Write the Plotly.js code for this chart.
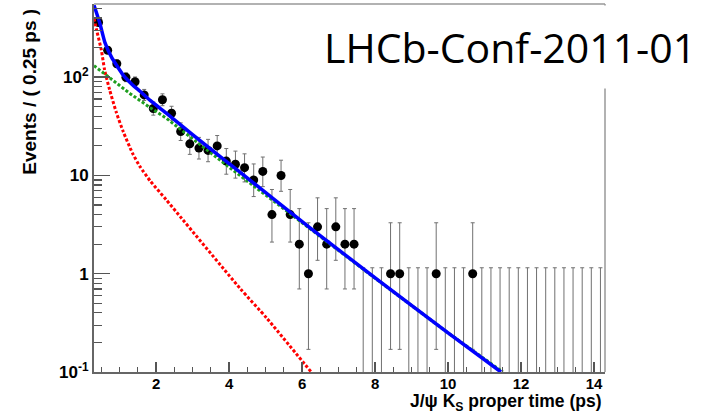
<!DOCTYPE html>
<html>
<head>
<meta charset="utf-8">
<script src="https://cdn.plot.ly/plotly-3.0.1.min.js"></script>
<style>html,body{margin:0;padding:0;background:#fff;}#chart{width:713px;height:416px;}</style>
</head>
<body>
<div id="chart"></div>
<script>
// ---- data ----
const binCenters = [0.425,0.675,0.925,1.175,1.425,1.675,1.925,2.175,2.425,2.675,
  2.925,3.175,3.425,3.675,3.925,4.175,4.425,4.675,4.925,5.175,
  5.425,5.675,5.925,6.175,6.425,6.675,6.925,7.175,7.425,7.675,
  7.925,8.175,8.425,8.675,8.925,9.175,9.425,9.675,9.925,10.175,
  10.425,10.675,10.925,11.175,11.425,11.675,11.925,12.175,12.425,12.675,
  12.925,13.175,13.425,13.675,13.925,14.175];
const counts = [360,188,137,100,90,66,48,59,43,28,
  21,19,18,20,14,13,12,9,11,4,
  10,4,2,1,3,2,3,2,2,0,
  0,0,1,1,0,0,0,1,0,0,
  0,1,0,0,0,0,0,0,0,0,
  0,0,0,0,0,0];
const errLow = [19.0,13.7,11.7,9.9,9.5,8.1,6.9,7.7,6.5,5.3,
  4.6,4.3,4.2,4.4,3.7,3.6,3.4,2.9,3.3,1.9,
  3.1,1.9,1.3,0.83,1.63,1.3,1.63,1.3,1.3,0,
  0,0,0.83,0.83,0,0,0,0.83,0,0,
  0,0.83,0,0,0,0,0,0,0,0,
  0,0,0,0,0,0];
const errHigh = [20.0,14.7,12.7,10.9,10.5,9.1,7.9,8.7,7.6,6.3,
  5.6,5.4,5.3,5.5,4.8,4.7,4.6,4.1,4.4,3.2,
  4.3,3.2,2.6,2.3,2.92,2.6,2.92,2.6,2.6,1.15,
  1.15,1.15,2.3,2.3,1.15,1.15,1.15,2.3,1.15,1.15,
  1.15,2.3,1.15,1.15,1.15,1.15,1.15,1.15,1.15,1.15,
  1.15,1.15,1.15,1.15,1.15,1.15];

// fit curves
const totalT   = [0.3, 0.46, 0.6, 0.78, 1.1, 1.35, 1.56, 1.84, 2.28, 3.0, 4.3, 6.21, 8.12, 10.0, 11.45];
const totalY   = [540, 354, 225, 160, 105, 84, 72, 58, 43, 26, 10.8, 2.95, 0.84, 0.25, 0.1];
const signalT  = [0.3, 0.74, 1.29, 1.84, 2.29, 4.11, 6.0, 8.0, 10.0, 11.5];
const signalY  = [131, 97, 68, 49, 38, 11.3, 3.3, 0.9, 0.25, 0.1];
const bkgT     = [0.3, 0.37, 0.5, 0.59, 0.73, 0.91, 1.1, 1.35, 1.56, 1.84, 2.28, 4.3, 5.03, 6.25];
const bkgY     = [398, 303, 190, 119, 74, 44, 28, 17, 12.3, 8.8, 5.65, 0.71, 0.354, 0.1];

const yTickVals = [0.1, 1, 10, 100];
const yTickText = ['10<sup>-1</sup>', '1', '10', '10<sup>2</sup>'];
const xTickVals = [2, 4, 6, 8, 10, 12, 14];

// ---- build traces ----
const nzX = [], nzY = [], nzLo = [], nzHi = [];
const zX = [], zY = [], zHi = [];
const floorY = 1e-3; // empty bins: drawn from below the axis
for (let i = 0; i < counts.length; i++) {
  if (counts[i] > 0) {
    nzX.push(binCenters[i]); nzY.push(counts[i]); nzLo.push(errLow[i]); nzHi.push(errHigh[i]);
  } else {
    zX.push(binCenters[i]); zY.push(floorY); zHi.push(errHigh[i] - floorY);
  }
}
const errStyle = {color: '#707070', thickness: 1, width: 2};
const traces = [
  {x: zX, y: zY, type: 'scatter', mode: 'markers', marker: {size: 1, color: 'rgba(0,0,0,0)'},
   error_y: Object.assign({type: 'data', symmetric: false, array: zHi, arrayminus: zX.map(() => 0)}, errStyle),
   hoverinfo: 'skip', showlegend: false},
  {x: nzX, y: nzY, type: 'scatter', mode: 'markers', marker: {size: 9, color: '#000'},
   error_y: Object.assign({type: 'data', symmetric: false, array: nzHi, arrayminus: nzLo}, errStyle),
   showlegend: false},
  {x: bkgT, y: bkgY, type: 'scatter', mode: 'lines', line: {color: '#ff0000', width: 3, dash: '3px,2px', shape: 'spline', smoothing: 0.6}, showlegend: false},
  {x: signalT, y: signalY, type: 'scatter', mode: 'lines', line: {color: '#1e9e1e', width: 3, dash: '3px,2px'}, showlegend: false},
  {x: totalT, y: totalY, type: 'scatter', mode: 'lines', line: {color: '#0000ff', width: 3.5, shape: 'spline', smoothing: 0.5}, showlegend: false}
];

const minorY = [0.2,0.3,0.4,0.5,0.6,0.7,0.8,0.9,2,3,4,5,6,7,8,9,20,30,40,50,60,70,80,90,200,300,400,500];
const tickFont = {family: 'Liberation Sans, Arial, sans-serif', size: 17, color: '#000', weight: 'bold'};

const layout = {
  width: 713, height: 416,
  margin: {l: 94, r: 108, t: 4, b: 44, pad: 0},
  paper_bgcolor: '#fff', plot_bgcolor: '#fff',
  showlegend: false,
  xaxis: {
    range: [0.3, 14.3], showgrid: false, zeroline: false,
    showline: true, linecolor: '#666', linewidth: 2,
    tickmode: 'array', tickvals: xTickVals,
    ticks: 'inside', ticklen: 10, tickwidth: 1.5, tickcolor: '#555',
    ticklabelstandoff: -3,
    minor: {ticks: 'inside', ticklen: 5, tickwidth: 1.2, tickcolor: '#555', dtick: 0.5, tick0: 0, showgrid: false},
    tickfont: {family: 'Liberation Sans, Arial, sans-serif', size: 15, color: '#000', weight: 'bold'}
  },
  yaxis: {
    type: 'log', range: [-1, 2.745], showgrid: false, zeroline: false,
    showline: true, linecolor: '#666', linewidth: 2,
    tickmode: 'array', tickvals: yTickVals, ticktext: yTickText,
    ticks: 'inside', ticklen: 16, tickwidth: 1.5, tickcolor: '#555',
    minor: {ticks: 'inside', ticklen: 8, tickwidth: 1.2, tickcolor: '#555', tickmode: 'array', tickvals: minorY, showgrid: false},
    tickfont: tickFont
  },
  shapes: [
    {type: 'line', xref: 'paper', yref: 'paper', x0: 0, x1: 1, y0: 1, y1: 1, line: {color: '#999', width: 1.5}},
    {type: 'line', xref: 'paper', yref: 'paper', x0: 1, x1: 1, y0: 0, y1: 1, line: {color: '#999', width: 1.5}}
  ],
  annotations: [
    {text: 'Events / ( 0.25 ps )', textangle: -90, xref: 'paper', yref: 'paper',
     x: -0.127, y: 0.762, xanchor: 'center', yanchor: 'middle', showarrow: false,
     font: {family: 'Liberation Sans, Arial, sans-serif', size: 19, color: '#000', weight: 'bold'}},
    {text: 'J/ψ K<sub>S</sub> proper time (ps)', xref: 'paper', yref: 'paper',
     x: 0.998, y: -0.083, xanchor: 'right', yanchor: 'middle', showarrow: false,
     font: {family: 'Liberation Sans, Arial, sans-serif', size: 17.5, color: '#000', weight: 'bold'}},
    {text: 'LHCb-Conf-2011-01', xref: 'paper', yref: 'paper',
     x: 0.814, y: 0.884, xanchor: 'center', yanchor: 'middle', showarrow: false,
     bgcolor: '#fff', borderpad: 13,
     font: {family: 'Open Sans, sans-serif', size: 41, color: '#000'}}
  ]
};

Plotly.newPlot('chart', traces, layout, {staticPlot: true, displayModeBar: false});
</script>
</body>
</html>
